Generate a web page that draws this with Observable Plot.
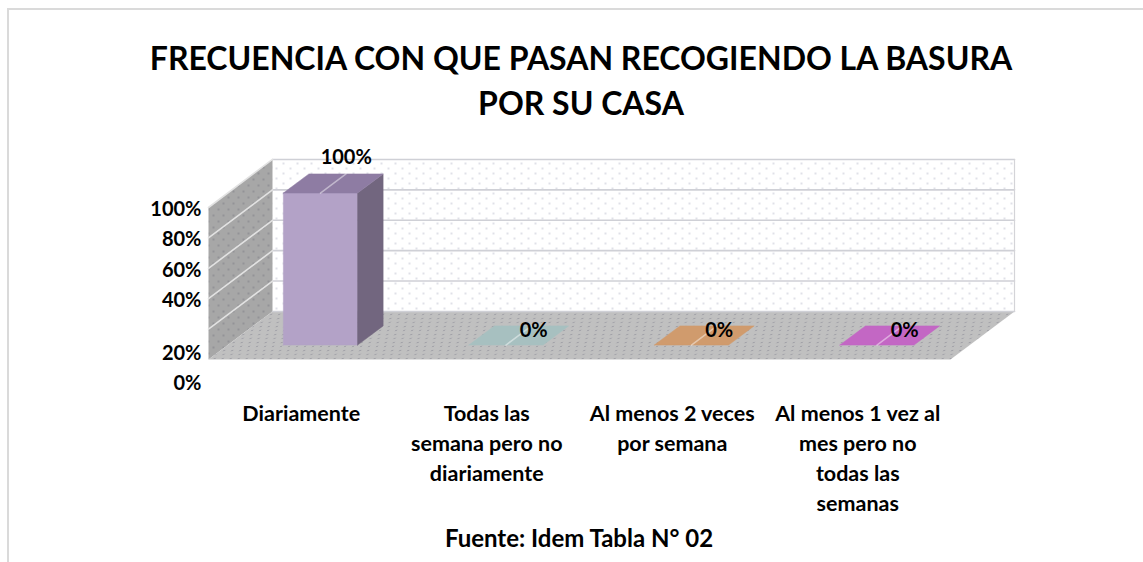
<!DOCTYPE html>
<html><head><meta charset="utf-8">
<script src="https://cdn.jsdelivr.net/npm/d3@7"></script>
<script src="https://cdn.jsdelivr.net/npm/@observablehq/plot@0.6"></script>
<style>
html,body{margin:0;padding:0;background:#fff;width:1143px;height:562px;overflow:hidden;font-family:Lato,"Open Sans",sans-serif;}
#frame{position:absolute;left:7px;top:8px;width:1140px;height:560px;border-left:2px solid #dadada;border-top:2px solid #dadada;box-sizing:border-box;}
#title{position:absolute;left:0;width:1162px;top:35px;text-align:center;font-weight:700;font-size:32px;line-height:45px;color:#000;}
#chart{position:absolute;left:0;top:140px;}
#foot{position:absolute;left:0;width:1158px;top:524px;text-align:center;font-weight:700;font-size:24px;line-height:28px;color:#000;}
</style></head>
<body>
<div id="frame"></div>
<div id="title">FRECUENCIA CON QUE PASAN RECOGIENDO LA BASURA<br>POR SU CASA</div>
<div id="chart"></div>
<div id="foot">Fuente: Idem Tabla N° 02</div>
<script>
// ---- data ----
const categories = ["Diariamente", "Todas las semana pero no diariamente", "Al menos 2 veces por semana", "Al menos 1 vez al mes pero no todas las semanas"];
const tickLabels = ["Diariamente", "Todas las\nsemana pero no\ndiariamente", "Al menos 2 veces\npor semana", "Al menos 1 vez al\nmes pero no\ntodas las\nsemanas"];
const values = [1, 0, 0, 0];
const valueLabels = ["100%", "0%", "0%", "0%"];
const yTicks = [0, 0.2, 0.4, 0.6, 0.8, 1];
const yTickLabels = ["0%", "20%", "40%", "60%", "80%", "100%"];

// ---- palette (per category) ----
const frontColors = ["#b3a2c7", "#b7cfcf", "#e0ab7e", "#d078d0"];
const topColors   = ["#8e7ca3", "#a7c0c0", "#d09b6d", "#c367c4"];
const sideColors  = ["#72667f", "#86a0a0", "#a9774d", "#9a4b9b"];

// oblique projection: depth d (0 front .. 1 back) shifts in data units
const DX = 0.345, DY = 0.316;
const P = (i, v, d) => ({x: i + DX * d, y: v + DY * d});
const N = categories.length;

function poly(id, pts, fill) { return [...pts, pts[0]].map(p => ({id, fill, ...p})); }

// walls
const backWall = poly("back", [P(0,0,1), P(N,0,1), P(N,1,1), P(0,1,1)], "url(#wallDots)");
const sideWall = poly("side", [P(0,0,0), P(0,0,1), P(0,1,1), P(0,1,0)], "url(#sideDots)");
const floor = poly("floor", [P(0,0,0), P(N,0,0), P(N,0,1), P(0,0,1)], "url(#floorDots)");
const backGrid = yTicks.flatMap(v => [{id: "g"+v, ...P(0,v,1)}, {id: "g"+v, ...P(N,v,1)}]);
const sideGrid = yTicks.filter(v => v > 0).flatMap(v => [{id: "s"+v, ...P(0,v,0)}, {id: "s"+v, ...P(0,v,1)}]);
const backRight = [{id: "r", ...P(N,0,1)}, {id: "r", ...P(N,1,1)}];

// bars
const W0 = 0.3, W1 = 0.7, D0 = 0.3, D1 = 0.7;
const faces = [];
const creases = [];
values.forEach((v, i) => {
  const a = i + W0, b = i + W1;
  if (v > 0) {
    faces.push(...poly("f"+i, [P(a,0,D0), P(b,0,D0), P(b,v,D0), P(a,v,D0)], frontColors[i]));
    faces.push(...poly("s"+i, [P(b,0,D0), P(b,0,D1), P(b,v,D1), P(b,v,D0)], sideColors[i]));
  }
  faces.push(...poly("t"+i, [P(a,v,D0), P(b,v,D0), P(b,v,D1), P(a,v,D1)], topColors[i]));
  creases.push({id: "c"+i, ...P(i+0.5, v, D0)}, {id: "c"+i, ...P(i+0.5, v, D1)});
});

const labelPts = values.map((v, i) => ({...P(i + 0.5, v, 0.5), v, label: valueLabels[i]}));
const catPts = tickLabels.map((t, i) => ({x: i + 0.5, y: 0, t}));
const yPts = yTicks.map((v, k) => ({...P(0, v, 0), v, t: yTickLabels[k]}));

const font = {fontSize: 20, fontWeight: 700, fill: "#000"};

const plot = Plot.plot({
  width: 1143,
  height: 380,
  x: {type: "linear", domain: [0, N], range: [208, 950], axis: null},
  y: {type: "linear", domain: [0, 1], range: [219, 67], axis: null},
  color: {type: "identity"},
  style: {fontFamily: "Lato, 'Open Sans', sans-serif", background: "transparent", overflow: "visible"},
  marks: [
    Plot.line(backWall, {x: "x", y: "y", z: "id", fill: "url(#wallDots)", stroke: "none"}),
    Plot.line(sideWall, {x: "x", y: "y", z: "id", fill: "url(#sideDots)", stroke: "none"}),
    Plot.line(floor, {x: "x", y: "y", z: "id", fill: "url(#floorDots)", stroke: "none"}),
    Plot.line(backGrid, {x: "x", y: "y", z: "id", stroke: "#cfd0d6", strokeWidth: 1.6}),
    Plot.line(backRight, {x: "x", y: "y", z: "id", stroke: "#d4d4d8", strokeWidth: 1.2}),
    Plot.line(sideGrid, {x: "x", y: "y", z: "id", stroke: "#e2e2e2", strokeWidth: 1.6}),
    Plot.line(faces, {x: "x", y: "y", z: "id", fill: "fill", stroke: "fill", strokeWidth: 0.5}),
    Plot.line(creases, {x: "x", y: "y", z: "id", stroke: "#ffffff", strokeOpacity: 0.45, strokeWidth: 1.5}),
    Plot.text(labelPts.filter(d => d.v > 0), {x: "x", y: "y", text: "label", dx: 13, dy: -26, ...font}),
    Plot.text(labelPts.filter(d => d.v === 0), {x: "x", y: "y", text: "label", dx: 15, dy: -5, ...font}),
    Plot.text(yPts.filter(d => d.v >= 0.4), {x: "x", y: "y", text: "t", textAnchor: "end", dx: -7, dy: 2, ...font}),
    Plot.text(yPts.filter(d => d.v < 0.4), {x: "x", y: "y", text: "t", textAnchor: "end", dx: -7, dy: 24, ...font}),
    Plot.text(catPts, {x: "x", y: "y", text: "t", lineAnchor: "top", lineHeight: 1.395, dy: 40, ...font, fontSize: 21.5})
  ]
});

const svg = d3.select(plot);
const defs = svg.insert("defs", ":first-child");
const wall = defs.append("pattern").attr("id", "wallDots").attr("patternUnits", "userSpaceOnUse").attr("width", 14).attr("height", 10);
wall.append("rect").attr("width", 14).attr("height", 10).attr("fill", "#ffffff");
wall.append("circle").attr("cx", 3).attr("cy", 3).attr("r", 0.8).attr("fill", "#b9bccb");
wall.append("circle").attr("cx", 10).attr("cy", 8).attr("r", 0.8).attr("fill", "#b9bccb");
const side = defs.append("pattern").attr("id", "sideDots").attr("patternUnits", "userSpaceOnUse").attr("width", 10).attr("height", 12);
side.append("rect").attr("width", 10).attr("height", 12).attr("fill", "#a7a7a7");
side.append("circle").attr("cx", 3).attr("cy", 3).attr("r", 0.9).attr("fill", "#8a8a90");
side.append("circle").attr("cx", 8).attr("cy", 9).attr("r", 0.9).attr("fill", "#8a8a90");
const fl = defs.append("pattern").attr("id", "floorDots").attr("patternUnits", "userSpaceOnUse").attr("width", 8).attr("height", 8).attr("patternTransform", "skewX(-50)");
fl.append("rect").attr("width", 8).attr("height", 8).attr("fill", "#c0c0c0");
fl.append("circle").attr("cx", 2).attr("cy", 2).attr("r", 0.8).attr("fill", "#9a9aa2");
fl.append("circle").attr("cx", 6).attr("cy", 6).attr("r", 0.8).attr("fill", "#9a9aa2");

document.getElementById("chart").appendChild(plot);
</script>
</body></html>
